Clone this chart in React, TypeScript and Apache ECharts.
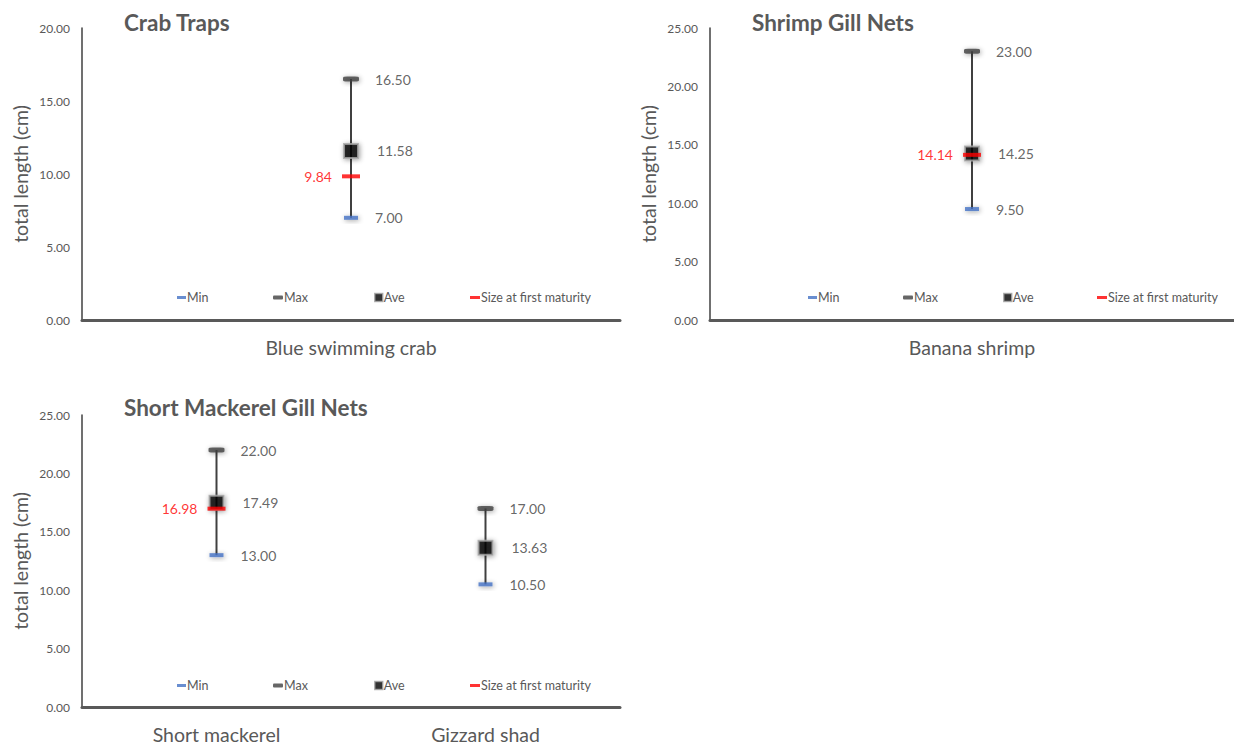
import React, { useEffect, useRef } from "react";
import * as echarts from "echarts";

// ---------- data ----------
const crabCategories = ["Blue swimming crab"];
const crabMin = [7.0];
const crabMax = [16.5];
const crabAve = [11.58];
const crabSfm = [9.84];

const shrimpCategories = ["Banana shrimp"];
const shrimpMin = [9.5];
const shrimpMax = [23.0];
const shrimpAve = [14.25];
const shrimpSfm = [14.14];

const mackCategories = ["Short mackerel", "Gizzard shad"];
const mackMin = [13.0, 10.5];
const mackMax = [22.0, 17.0];
const mackAve = [17.49, 13.63];
const mackSfm = [16.98, null];

const titles = ["Crab Traps", "Shrimp Gill Nets", "Short Mackerel Gill Nets"];
const yMaxes = [20, 25, 25];
const legendNames = ["Min", "Max", "Ave", "Size at first maturity"];

const FONT = "Lato, 'Noto Sans', sans-serif";
const GRAY = "#595959";
const DARK = "#404040";
const BLUE = "#4472C4";
const RED = "#FF0000";

const shadow = {
  shadowBlur: 5,
  shadowColor: "rgba(0,0,0,0.45)",
  shadowOffsetX: 1,
  shadowOffsetY: 1,
};

function panelSeries(idx: number, mins: number[], maxs: number[], aves: number[], sfms: (number | null)[]) {
  const valueLabel = (dist: number) => ({
    show: true,
    position: "right",
    distance: dist,
    fontSize: 14,
    fontFamily: FONT,
    color: DARK,
    formatter: (p: any) => (p.value == null ? "" : Number(p.value).toFixed(2)),
  });
  return [
    {
      type: "custom",
      xAxisIndex: idx,
      yAxisIndex: idx,
      silent: true,
      data: mins.map((m, i) => [i, m, maxs[i]]),
      encode: { x: 0, y: [1, 2] },
      renderItem: (params: any, api: any) => {
        const p1 = api.coord([api.value(0), api.value(1)]);
        const p2 = api.coord([api.value(0), api.value(2)]);
        return {
          type: "line",
          shape: { x1: p1[0], y1: p1[1], x2: p2[0], y2: p2[1] },
          style: { stroke: DARK, lineWidth: 2 },
        };
      },
      z: 1,
    },
    {
      name: "Min",
      type: "scatter",
      xAxisIndex: idx,
      yAxisIndex: idx,
      symbol: "rect",
      symbolSize: [14, 4],
      itemStyle: { color: BLUE, ...shadow },
      label: valueLabel(17),
      data: mins,
      z: 2,
    },
    {
      name: "Max",
      type: "scatter",
      xAxisIndex: idx,
      yAxisIndex: idx,
      symbol: "roundRect",
      symbolSize: [16, 5],
      itemStyle: { color: DARK, ...shadow },
      label: valueLabel(16),
      data: maxs,
      z: 2,
    },
    {
      name: "Ave",
      type: "scatter",
      xAxisIndex: idx,
      yAxisIndex: idx,
      symbol: "rect",
      symbolSize: 14,
      itemStyle: { color: "#000000", borderColor: "#A6A6A6", borderWidth: 2, ...shadow },
      label: valueLabel(18),
      data: aves,
      z: 3,
    },
    {
      name: "Size at first maturity",
      type: "scatter",
      xAxisIndex: idx,
      yAxisIndex: idx,
      symbol: "rect",
      symbolSize: [18, 4],
      itemStyle: { color: RED },
      label: {
        show: true,
        position: "left",
        distance: 10,
        fontSize: 14,
        fontFamily: FONT,
        color: RED,
        formatter: (p: any) => (p.value == null ? "" : Number(p.value).toFixed(2)),
      },
      data: sfms.map((v) => (v == null ? "-" : v)),
      z: 4,
    },
  ];
}

function legendsFor(xs: number[], top: number) {
  const icons: any[] = [
    { icon: "rect", w: 9, h: 3, style: { color: BLUE, borderWidth: 0, shadowBlur: 0 } },
    { icon: "roundRect", w: 10, h: 4, style: { color: DARK, borderWidth: 0, shadowBlur: 0 } },
    { icon: "rect", w: 8, h: 8, style: { color: "#000", borderColor: "#A6A6A6", borderWidth: 1.5, shadowBlur: 0 } },
    { icon: "rect", w: 10, h: 3, style: { color: RED, borderWidth: 0, shadowBlur: 0 } },
  ];
  return legendNames.map((n, i) => ({
    data: [n],
    left: xs[i],
    top,
    padding: 0,
    icon: icons[i].icon,
    itemWidth: icons[i].w,
    itemHeight: icons[i].h,
    itemStyle: icons[i].style,
    selectedMode: false,
    textStyle: { fontSize: 12.5, fontFamily: FONT, color: GRAY, padding: [0, 0, 0, -4] },
  }));
}

export default function App() {
  const ref = useRef<HTMLDivElement>(null);
  useEffect(() => {
    document.body.style.margin = "0";
    const chart = echarts.init(ref.current!, undefined, { renderer: "svg" });
    const grids = [
      { left: 82, top: 28, width: 538, height: 292 },
      { left: 710, top: 28, width: 540, height: 292 },
      { left: 82, top: 415, width: 538, height: 292 },
    ];
    const cats = [crabCategories, shrimpCategories, mackCategories];
    const option: any = {
      animation: false,
      backgroundColor: "#ffffff",
      title: [
        { text: titles[0], left: 124, top: 11 },
        { text: titles[1], left: 752, top: 11 },
        { text: titles[2], left: 124, top: 396 },
      ].map((t) => ({
        ...t,
        padding: 0,
        textStyle: { fontSize: 22.5, fontWeight: "bold", fontFamily: FONT, color: GRAY },
      })),
      grid: grids,
      xAxis: cats.map((c, i) => ({
        type: "category",
        gridIndex: i,
        data: c,
        axisLine: { lineStyle: { color: GRAY, width: 3 } },
        axisTick: { show: false },
        axisLabel: { fontSize: 19.5, fontFamily: FONT, color: GRAY, margin: 17 },
        splitLine: { show: false },
      })),
      yAxis: yMaxes.map((m, i) => ({
        type: "value",
        gridIndex: i,
        min: 0,
        max: m,
        interval: 5,
        name: "total length (cm)",
        nameLocation: "middle",
        nameGap: 52,
        nameTextStyle: { fontSize: 19.5, fontFamily: FONT, color: GRAY },
        axisLine: { show: true, lineStyle: { color: DARK, width: 1.5 } },
        axisTick: { show: false },
        axisLabel: {
          fontSize: 12,
          fontFamily: FONT,
          color: GRAY,
          margin: 12,
          formatter: (v: number) => v.toFixed(2),
        },
        splitLine: { show: false },
      })),
      legend: [
        ...legendsFor([177, 273, 374, 470], 291),
        ...legendsFor([808, 903, 1003, 1097], 291),
        ...legendsFor([177, 273, 374, 470], 679),
      ],
      series: [
        ...panelSeries(0, crabMin, crabMax, crabAve, crabSfm),
        ...panelSeries(1, shrimpMin, shrimpMax, shrimpAve, shrimpSfm),
        ...panelSeries(2, mackMin, mackMax, mackAve, mackSfm),
      ],
    };
    chart.setOption(option);
    return () => chart.dispose();
  }, []);
  return <div ref={ref} style={{ width: 1234, height: 744 }} />;
}
